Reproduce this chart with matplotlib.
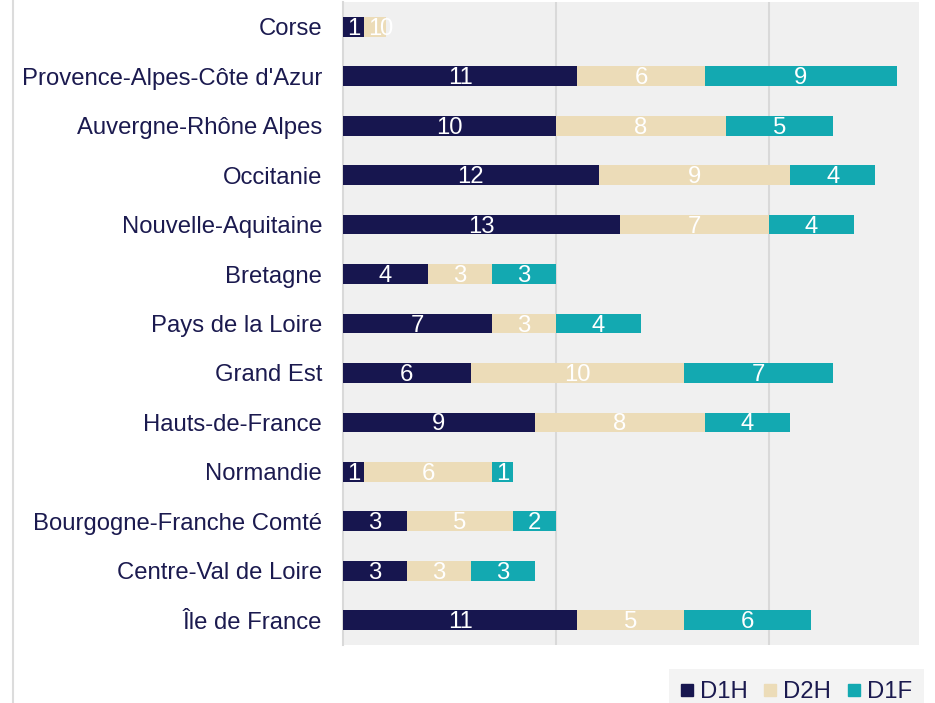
import matplotlib
matplotlib.use("Agg")
import matplotlib.pyplot as plt
from matplotlib.lines import Line2D
import matplotlib.transforms as mtransforms
import numpy as np

plt.rcParams['font.family'] = ['Liberation Sans', 'DejaVu Sans']

regions = ["Corse", "Provence-Alpes-Côte d'Azur", "Auvergne-Rhône Alpes", "Occitanie",
           "Nouvelle-Aquitaine", "Bretagne", "Pays de la Loire", "Grand Est",
           "Hauts-de-France", "Normandie", "Bourgogne-Franche Comté",
           "Centre-Val de Loire", "Île de France"]
d1h = [1, 11, 10, 12, 13, 4, 7, 6, 9, 1, 3, 3, 11]
d2h = [1, 6, 8, 9, 7, 3, 3, 10, 8, 6, 5, 3, 5]
d1f = [0, 9, 5, 4, 4, 3, 4, 7, 4, 1, 2, 3, 6]
series_names = ["D1H", "D2H", "D1F"]
colors = ["#17164f", "#ecdcb8", "#13a9b1"]
text_color = "#1b1a4f"
fs = 17.2

W, H = 935, 703
fig = plt.figure(figsize=(W/100, H/100), dpi=100)
ax = fig.add_axes([343/W, 1-645/H, (919-343)/W, (645-2)/H])
ax.set_facecolor("#f0f0f0")

down = mtransforms.ScaledTranslation(0, -2/100, fig.dpi_scale_trans)

y = np.arange(len(regions))
left = np.zeros(len(regions))
for vals, name, c in zip([d1h, d2h, d1f], series_names, colors):
    vals = np.array(vals, dtype=float)
    ax.barh(y, vals, left=left, height=0.4, color=c, label=name, zorder=3)
    for yi, l, v in zip(y, left, vals):
        ax.text(l + v/2, yi, f"{int(v)}", ha="center", va="center",
                color="white", fontsize=fs, zorder=4,
                transform=ax.transData + down)
    left += vals

ax.set_xlim(0, 27.05)
ax.set_ylim(len(regions) - 0.5, -0.5)
ax.set_yticks(y)
ax.set_yticklabels(regions, fontsize=fs, color=text_color)
for lbl in ax.get_yticklabels():
    lbl.set_transform(lbl.get_transform() + mtransforms.ScaledTranslation(0, -1.5/100, fig.dpi_scale_trans))
ax.tick_params(axis="y", length=0, pad=15)
ax.set_xticks([10, 20])
ax.tick_params(axis="x", length=0, labelbottom=False)
ax.grid(axis="x", color="#d9d9d9", linewidth=1.5, zorder=0)
for s in ["top", "right", "bottom"]:
    ax.spines[s].set_visible(False)
ax.spines["left"].set_color("#d9d9d9")
ax.spines["left"].set_linewidth(1.5)

fig.add_artist(Line2D([13/W, 13/W], [0, 1], color="#dcdcdc", linewidth=1.5))

handles = [Line2D([], [], marker="s", linestyle="none", markersize=8,
                  color=c) for c in colors]
leg = fig.legend(handles, series_names, loc="lower right", ncol=3,
                 bbox_to_anchor=(924/W, -0.017), borderaxespad=0, frameon=True,
                 fontsize=fs, handletextpad=0.3, columnspacing=0.7,
                 borderpad=0.5, handlelength=0.5, labelcolor=text_color)
leg.get_frame().set_facecolor("#f0f0f0")
leg.get_frame().set_edgecolor("none")
leg.get_frame().set_boxstyle("square", pad=0)

fig.savefig("out.png", dpi=100)
